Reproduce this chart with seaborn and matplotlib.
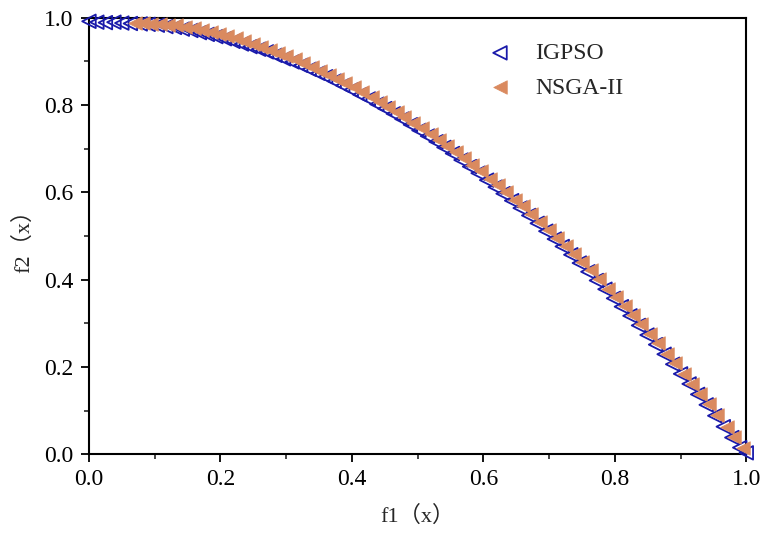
import matplotlib
matplotlib.use("Agg")
import matplotlib.pyplot as plt
import seaborn as sns
import pandas as pd
from matplotlib.ticker import MultipleLocator

igpso_x = [0.000, 0.012, 0.025, 0.038, 0.050, 0.063, 0.078, 0.090, 0.104, 0.117,
           0.130, 0.142, 0.155, 0.168, 0.180, 0.193, 0.206, 0.219, 0.232, 0.245,
           0.258, 0.270, 0.283, 0.296, 0.309, 0.322, 0.335, 0.348, 0.360, 0.373,
           0.386, 0.399, 0.412, 0.425, 0.438, 0.450, 0.463, 0.476, 0.489, 0.502,
           0.515, 0.528, 0.540, 0.553, 0.566, 0.579, 0.592, 0.605, 0.618, 0.630,
           0.643, 0.656, 0.669, 0.682, 0.695, 0.708, 0.720, 0.733, 0.746, 0.759,
           0.772, 0.785, 0.798, 0.810, 0.823, 0.836, 0.849, 0.862, 0.875, 0.888,
           0.900, 0.913, 0.926, 0.939, 0.952, 0.965, 0.978, 0.990, 1.000]
igpso_y = [0.992, 0.990, 0.989, 0.990, 0.988, 0.987, 0.986, 0.985, 0.983, 0.980,
           0.978, 0.974, 0.971, 0.966, 0.962, 0.957, 0.952, 0.946, 0.940, 0.934,
           0.928, 0.922, 0.914, 0.906, 0.899, 0.891, 0.882, 0.873, 0.865, 0.855,
           0.845, 0.835, 0.824, 0.814, 0.802, 0.792, 0.780, 0.768, 0.755, 0.742,
           0.729, 0.716, 0.703, 0.689, 0.674, 0.659, 0.644, 0.628, 0.612, 0.597,
           0.581, 0.564, 0.547, 0.529, 0.511, 0.493, 0.476, 0.457, 0.438, 0.418,
           0.398, 0.378, 0.357, 0.338, 0.317, 0.295, 0.273, 0.251, 0.229, 0.206,
           0.184, 0.161, 0.137, 0.113, 0.088, 0.063, 0.038, 0.015, 0.003]

nsga_x = [0.070, 0.082, 0.095, 0.108, 0.120, 0.133, 0.146, 0.160, 0.172, 0.185,
          0.198, 0.210, 0.223, 0.236, 0.250, 0.262, 0.275, 0.288, 0.300, 0.313,
          0.326, 0.340, 0.352, 0.365, 0.378, 0.390, 0.403, 0.416, 0.430, 0.442,
          0.455, 0.468, 0.480, 0.493, 0.506, 0.520, 0.532, 0.545, 0.558, 0.570,
          0.583, 0.596, 0.610, 0.622, 0.635, 0.648, 0.660, 0.673, 0.686, 0.700,
          0.712, 0.725, 0.738, 0.750, 0.763, 0.776, 0.790, 0.802, 0.815, 0.828,
          0.840, 0.853, 0.866, 0.880, 0.892, 0.905, 0.918, 0.930, 0.943, 0.956,
          0.970, 0.982, 0.995]
nsga_y = [0.988, 0.987, 0.986, 0.985, 0.984, 0.983, 0.980, 0.976, 0.972, 0.968,
          0.963, 0.958, 0.953, 0.947, 0.940, 0.934, 0.927, 0.920, 0.913, 0.905,
          0.897, 0.888, 0.879, 0.870, 0.860, 0.851, 0.841, 0.830, 0.818, 0.808,
          0.796, 0.784, 0.773, 0.760, 0.747, 0.733, 0.720, 0.706, 0.692, 0.678,
          0.663, 0.648, 0.631, 0.616, 0.600, 0.583, 0.568, 0.550, 0.533, 0.513,
          0.496, 0.478, 0.459, 0.441, 0.421, 0.401, 0.379, 0.360, 0.339, 0.318,
          0.298, 0.276, 0.254, 0.229, 0.208, 0.184, 0.160, 0.138, 0.114, 0.089,
          0.062, 0.039, 0.013]

labels = ["IGPSO", "NSGA-II"]
ticks = [0.0, 0.2, 0.4, 0.6, 0.8, 1.0]

sns.set_theme(style="ticks")
plt.rcParams["font.family"] = ["Liberation Serif", "Noto Sans CJK SC"]

df_i = pd.DataFrame({"f1": igpso_x, "f2": igpso_y})
df_n = pd.DataFrame({"f1": nsga_x, "f2": nsga_y})

fig = plt.figure(figsize=(7.67, 5.4), dpi=100)
ax = fig.add_axes([0.116, 0.159, 0.857, 0.808])

blue = "#1A1AAA"
orange = "#DA8A5F"
sns.scatterplot(data=df_i, x="f1", y="f2", ax=ax, marker="<", s=95,
                facecolor="none", edgecolor=blue, linewidth=1.3, label=labels[0],
                clip_on=False, zorder=3)
sns.scatterplot(data=df_n, x="f1", y="f2", ax=ax, marker="<", s=95,
                color=orange, edgecolor=orange, linewidth=0.5, label=labels[1],
                clip_on=False, zorder=4)

ax.set_xlim(0, 1)
ax.set_ylim(0, 1)
ax.set_xticks(ticks)
ax.set_yticks(ticks)
ax.set_xticklabels([f"{t:.1f}" for t in ticks])
ax.set_yticklabels([f"{t:.1f}" for t in ticks])
ax.xaxis.set_minor_locator(MultipleLocator(0.1))
ax.yaxis.set_minor_locator(MultipleLocator(0.1))
ax.tick_params(which="major", direction="out", length=6, width=1.3, labelsize=17,
               colors="black", top=False, right=False, pad=5)
ax.tick_params(which="minor", direction="out", length=3.5, width=1.2,
               top=False, right=False)
for sp in ax.spines.values():
    sp.set_visible(True)
    sp.set_linewidth(1.5)
    sp.set_color("black")

ax.set_xlabel("f1（x）", fontsize=16, labelpad=11)
ax.set_ylabel("f2（x）", fontsize=16, labelpad=7)

leg = ax.legend(loc="upper left", bbox_to_anchor=(0.575, 0.965), frameon=False,
                fontsize=17, handletextpad=0.5, labelspacing=0.55, borderaxespad=0)

fig.savefig("out.png", dpi=100, facecolor="white")
